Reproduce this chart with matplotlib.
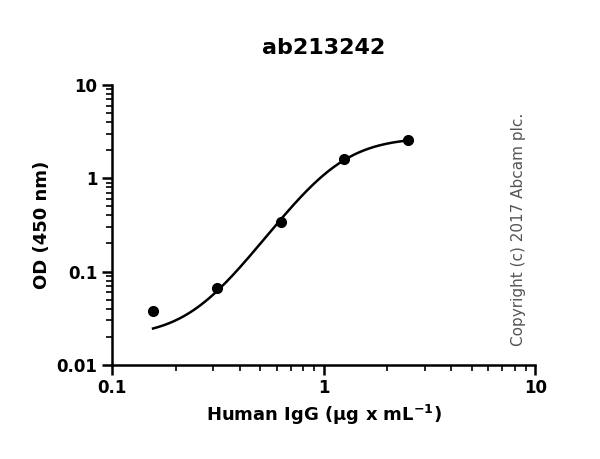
import numpy as np
import matplotlib
matplotlib.use('Agg')
from matplotlib import pyplot as plt

# Measured points
conc = [0.156, 0.3125, 0.625, 1.25, 2.5]
od = [0.038, 0.067, 0.34, 1.6, 2.6]

# 4PL fit parameters
fit_bottom = 0.02
fit_top = 2.75
fit_ec50 = 1.15
fit_hill = 3.2

x_fit = np.logspace(np.log10(conc[0]), np.log10(conc[-1]), 200)
y_fit = fit_top + (fit_bottom - fit_top) / (1 + (x_fit / fit_ec50) ** fit_hill)

fig = plt.figure(figsize=(6, 4.59), dpi=100)
ax = fig.add_axes([0.187, 0.205, 0.705, 0.61])

ax.plot(x_fit, y_fit, color='black', lw=1.8)
ax.plot(conc, od, 'o', color='black', ms=7)

ax.set_xscale('log')
ax.set_yscale('log')
ax.set_xlim(0.1, 10)
ax.set_ylim(0.01, 10)
ax.set_xticks([0.1, 1, 10])
ax.set_xticklabels(['0.1', '1', '10'])
ax.set_yticks([0.01, 0.1, 1, 10])
ax.set_yticklabels(['0.01', '0.1', '1', '10'])

for side in ['top', 'right']:
    ax.spines[side].set_visible(False)
for side in ['left', 'bottom']:
    ax.spines[side].set_linewidth(1.8)
ax.tick_params(which='major', width=1.8, length=7, labelsize=12)
ax.tick_params(which='minor', width=1.2, length=4)
for lab in ax.get_xticklabels() + ax.get_yticklabels():
    lab.set_fontweight('bold')

ax.set_title('ab213242', fontsize=16, fontweight='bold', pad=22)
ax.set_xlabel('Human IgG (µg x mL$^{\\mathbf{-1}}$)', fontsize=13, fontweight='bold')
ax.set_ylabel('OD (450 nm)', fontsize=13, fontweight='bold')

fig.text(0.865, 0.5, 'Copyright (c) 2017 Abcam plc.', rotation=90,
         fontsize=11, color='#555555', ha='center', va='center')

fig.savefig('out.png', dpi=100)
